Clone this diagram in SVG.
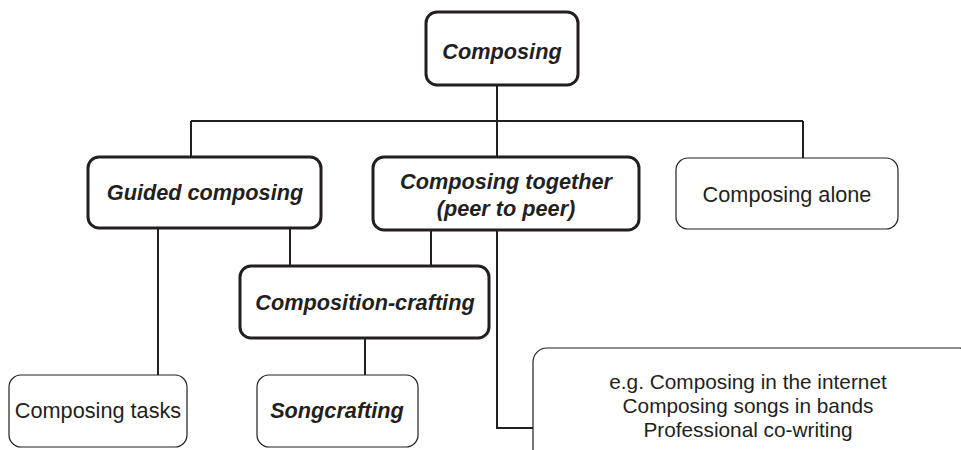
<svg xmlns="http://www.w3.org/2000/svg" width="961" height="450" viewBox="0 0 961 450">
<style>
.b{fill:#fff;stroke:#231f20;stroke-width:3}
.t{fill:#fff;stroke:#231f20;stroke-width:1.2}
.bt{font-family:"Liberation Sans",Arial,sans-serif;font-weight:bold;font-style:italic;font-size:21.7px;fill:#231f20;text-anchor:middle}
.rt{font-family:"Liberation Sans",Arial,sans-serif;font-size:21.7px;fill:#231f20;text-anchor:middle}
.c{fill:none;stroke:#231f20;stroke-width:2}
</style>
<rect width="961" height="450" fill="#fff"/>
<g id="connectors">
<path class="c" d="M497,85 V121 M191,121 H803 M191,121 V157 M497,121 V157 M803,121 V158"/>
<path class="c" d="M158,228 V375 M290,228 V266 M431,230 V266 M497,230 V428 H533 M365,338 V375"/>
</g>
<g id="composing"><rect class="b" x="426" y="12" width="152" height="73" rx="11"/><text class="bt" x="502" y="59">Composing</text></g>
<g id="guided"><rect class="b" x="88" y="157" width="233" height="71" rx="11"/><text class="bt" x="205" y="200">Guided composing</text></g>
<g id="together"><rect class="b" x="373" y="157" width="266" height="73" rx="11"/><text class="bt" x="506" y="189">Composing together</text><text class="bt" x="506" y="216">(peer to peer)</text></g>
<g id="alone"><rect class="t" x="676" y="158" width="222" height="71" rx="12"/><text class="rt" x="787" y="202">Composing alone</text></g>
<g id="crafting"><rect class="b" x="240" y="266" width="249" height="72" rx="11"/><text class="bt" x="365" y="310">Composition-crafting</text></g>
<g id="tasks"><rect class="t" x="9" y="375" width="178" height="72" rx="12"/><text class="rt" x="98" y="418">Composing tasks</text></g>
<g id="songcrafting"><rect class="t" x="257" y="375" width="161" height="72" rx="12"/><text class="bt" x="337" y="418">Songcrafting</text></g>
<g id="examples"><rect class="t" x="533" y="348" width="440" height="120" rx="14"/><text class="rt" x="748" y="389" style="font-size:20.8px">e.g. Composing in the internet</text><text class="rt" x="748" y="413" style="font-size:20.8px">Composing songs in bands</text><text class="rt" x="748" y="437" style="font-size:20.8px">Professional co-writing</text></g>
</svg>
